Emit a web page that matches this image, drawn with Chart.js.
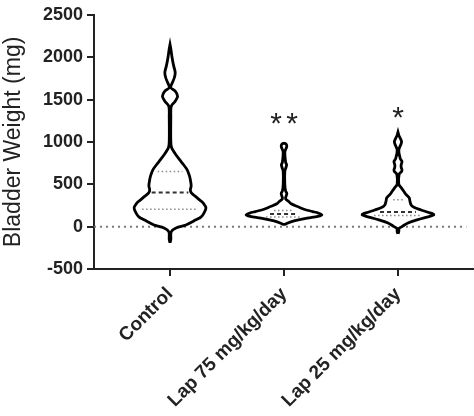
<!DOCTYPE html>
<html>
<head>
<meta charset="utf-8">
<script src="https://cdn.jsdelivr.net/npm/chart.js@4"></script>
<style>
  html, body { margin: 0; padding: 0; background: #fff; }
  #wrap { width: 474px; height: 416px; }
</style>
</head>
<body>
<div id="wrap"><canvas id="grafico"></canvas></div>
<script>
const categorias = ['Control', 'Lap 75 mg/kg/day', 'Lap 25 mg/kg/day'];
const yTicks = [-500, 0, 500, 1000, 1500, 2000, 2500];

// violin outlines: weight (mg) levels and relative half width (density) at each level
const controlNiveis = [-190, -150, -60, -15, 20, 80, 115, 160, 221, 280, 316, 360, 402, 434, 480, 552, 610, 670, 730, 790, 860, 930, 1000, 1300, 1420, 1480, 1540, 1600, 1640, 1700, 1760, 1820, 1900, 2000, 2100, 2150];
const controlDensidade = [0, .02, .03, .15, .4, .65, .78, .85, .9, .83, .74, .63, .53, .51, .53, .51, .48, .43, .34, .24, .13, .04, .02, .02, .03, .13, .19, .13, .02, .06, .11, .13, .09, .05, .02, 0];

const lap75Niveis = [20, 40, 67, 100, 120, 138, 160, 178, 205, 237, 270, 296, 330, 370, 395, 420, 500, 650, 700, 730, 760, 880, 920, 950, 975, 985];
const lap75Densidade = [0, .08, .25, .58, .85, .95, .86, .72, .5, .34, .18, .12, .04, .06, .07, .04, .02, .02, .05, .065, .04, .02, .05, .07, .05, 0];

const lap25Niveis = [-85, -60, -20, 0, 44, 80, 110, 140, 170, 197, 230, 256, 300, 340, 380, 414, 460, 500, 620, 650, 670, 700, 730, 769, 800, 900, 980, 1005, 1040, 1080, 1115];
const lap25Densidade = [0, .02, .03, .1, .25, .48, .7, .9, .75, .58, .4, .33, .3, .28, .2, .15, .08, .02, .03, .09, .1, .08, .08, .1, .06, .02, .08, .09, .06, .02, 0];

// quartiles (mg) and the half width of each quartile line
const quartil1 = [205, 115, 130];
const medianas = [402, 150, 172];
const quartil3 = [650, 190, 316];
const larguraQ1 = [.7, .45, .6];
const larguraMediana = [.46, .35, .45];
const larguraQ3 = [.31, .25, .12];

const significancia = ['', '**', '*'];
const alturaSignif = [null, 1310, 1380];

const larguraMax = 0.35;   // category units for density 1
const fonte = "'Liberation Sans', Arial, Helvetica, sans-serif";

function contorno(centro, niveis, densidade) {
    const dir = niveis.map((y, i) => ({ x: centro + densidade[i] * larguraMax, y: y }));
    const esq = niveis.map((y, i) => ({ x: centro - densidade[i] * larguraMax, y: y })).reverse();
    return dir.concat(esq);
}

function linhaQuartil(i, valor, largura, cor, dash, esp) {
    return {
        data: [{ x: i - largura * larguraMax, y: valor }, { x: i + largura * larguraMax, y: valor }],
        showLine: true, borderColor: cor, borderWidth: esp, borderDash: dash,
        pointRadius: 0, fill: false, tension: 0, order: 0
    };
}

const violinos = [
    [controlNiveis, controlDensidade],
    [lap75Niveis, lap75Densidade],
    [lap25Niveis, lap25Densidade]
];

const datasets = [];
categorias.forEach(function (c, i) {
    datasets.push(linhaQuartil(i, quartil1[i], larguraQ1[i], '#8a8a8a', [1.5, 2.5], 1.5));
    datasets.push(linhaQuartil(i, medianas[i], larguraMediana[i], '#333', [4, 3], 2));
    datasets.push(linhaQuartil(i, quartil3[i], larguraQ3[i], '#8a8a8a', [1.5, 2.5], 1.5));
});
violinos.forEach(function (v, i) {
    datasets.push({
        data: contorno(i, v[0], v[1]),
        showLine: true, borderColor: '#000', borderWidth: 2.8,
        backgroundColor: '#fff', fill: 'shape',
        pointRadius: 0, tension: 0.35, order: 1
    });
});
// dotted zero line
datasets.push({
    data: [{ x: -0.667, y: 0 }, { x: 2.6, y: 0 }],
    showLine: true, borderColor: '#7a7a7a', borderWidth: 2, borderDash: [2, 4],
    pointRadius: 0, fill: false, order: 2
});

const marcas = {
    id: 'marcas',
    afterDatasetsDraw(chart) {
        const ctx = chart.ctx;
        const xs = chart.scales.x, ys = chart.scales.y;
        const tam = 30;
        ctx.save();
        ctx.fillStyle = '#222';
        ctx.font = tam + 'px ' + fonte;
        ctx.textAlign = 'center';
        ctx.textBaseline = 'alphabetic';
        significancia.forEach(function (s, i) {
            if (!s) return;
            const x = xs.getPixelForValue(i);
            const y = ys.getPixelForValue(alturaSignif[i]) + 0.57 * tam;
            // each star drawn on its own, with a gap
            const n = s.length, gap = 16;
            for (let k = 0; k < n; k++) {
                ctx.fillText('*', x + (k - (n - 1) / 2) * gap, y);
            }
        });
        ctx.restore();
    }
};

const ctx = document.getElementById('grafico').getContext('2d');
new Chart(ctx, {
    type: 'scatter',
    data: { datasets: datasets },
    plugins: [marcas],
    options: {
        responsive: true,
        maintainAspectRatio: false,
        animation: false,
        layout: { padding: { top: 14, right: 0, bottom: 0, left: 0 } },
        plugins: { legend: { display: false }, tooltip: { enabled: false } },
        scales: {
            x: {
                type: 'linear', min: -0.667, max: 2.667,
                afterBuildTicks: function (s) { s.ticks = categorias.map((c, i) => ({ value: i })); },
                afterFit: function (s) { s.height = 147; },
                ticks: {
                    callback: function (v) { return categorias[v]; },
                    minRotation: 45, maxRotation: 45, autoSkip: false,
                    color: '#222', padding: 7,
                    font: { family: fonte, size: 19, weight: 'bold' }
                },
                grid: { drawOnChartArea: false, drawTicks: true, tickLength: 7, color: '#222', lineWidth: 2 },
                border: { color: '#222', width: 2 }
            },
            y: {
                min: -500, max: 2500,
                afterBuildTicks: function (s) { s.ticks = yTicks.map(v => ({ value: v })); },
                afterFit: function (s) { s.width = 94; },
                ticks: {
                    color: '#222', padding: 4,
                    callback: function (v) { return String(v); },
                    font: { family: fonte, size: 18, weight: 'bold' }
                },
                grid: { drawOnChartArea: false, drawTicks: true, tickLength: 7, color: '#222', lineWidth: 2 },
                border: { color: '#222', width: 2 },
                title: {
                    display: true, text: 'Bladder Weight (mg)', color: '#222', padding: 0,
                    font: { family: fonte, size: 23 }
                }
            }
        }
    }
});
</script>
</body>
</html>
